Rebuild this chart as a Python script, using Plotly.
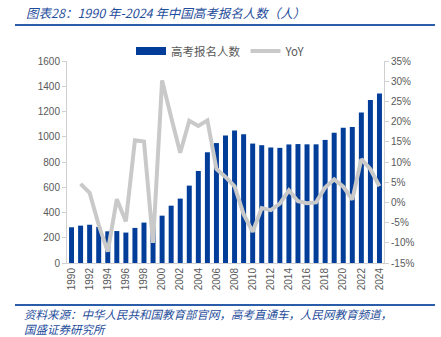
import plotly.graph_objects as go

years = [str(y) for y in range(1990, 2025)]
applicants = [283, 296, 303, 286, 251, 253, 241, 278, 320, 288, 375, 454, 510, 613, 729,
              877, 950, 1010, 1050, 1020, 946, 933, 915, 912, 939, 942, 940, 940, 975,
              1031, 1071, 1078, 1193, 1291, 1342]
yoy = [None, 4.6, 2.4, -5.6, -12.2, 0.8, -4.7, 15.4, 15.1, -10.0, 30.2, 21.1, 12.3, 20.2,
       18.9, 20.3, 8.3, 6.3, 4.0, -2.9, -7.3, -1.4, -1.9, -0.3, 3.0, 0.3, -0.2, 0.0, 3.7,
       5.7, 3.9, 0.7, 10.7, 8.2, 4.0]
left_ticks = [0, 200, 400, 600, 800, 1000, 1200, 1400, 1600]
right_ticks = [-15, -10, -5, 0, 5, 10, 15, 20, 25, 30, 35]
x_ticks = [str(y) for y in range(1990, 2025, 2)]

BLUE = "#023e99"
GREY_LINE = "#c9c9c9"
TXT = "#595959"
AX = "#d0d0d0"
FONT = "Noto Sans CJK SC, Liberation Sans, sans-serif"

fig = go.Figure()
fig.add_trace(go.Bar(x=years, y=applicants, name="高考报名人数", marker=dict(color=BLUE, line=dict(width=0)),
                     width=0.55, yaxis="y", showlegend=False))
# legend-only entry drawn as a wide rectangle like the reference
fig.add_trace(go.Scatter(x=[None], y=[None], name="高考报名人数", mode="lines",
                         line=dict(color=BLUE, width=8), yaxis="y", showlegend=True))
fig.add_trace(go.Scatter(x=years, y=yoy, name="YoY", mode="lines",
                         line=dict(color=GREY_LINE, width=4), yaxis="y2", connectgaps=False))

L, T, W, H = 67, 61, 317, 202
def px(x): return (x - L) / W
def py(y): return (T + H - y) / H

fig.update_layout(
    width=441, height=337,
    margin=dict(l=L, r=441 - L - W, t=T, b=337 - T - H),
    paper_bgcolor="white", plot_bgcolor="white",
    font=dict(family=FONT, size=10, color=TXT),
    showlegend=True,
    legend=dict(orientation="h", x=px(221), xanchor="center", y=py(51), yanchor="middle",
                font=dict(size=11.5, color=TXT), itemwidth=30, traceorder="normal", bgcolor="rgba(0,0,0,0)"),
    xaxis=dict(type="category", tickmode="array", tickvals=x_ticks, ticktext=x_ticks, tickangle=-90,
               showline=True, linecolor=AX, linewidth=1, ticks="", showgrid=False,
               tickfont=dict(size=10, color=TXT, family="Liberation Sans, sans-serif"), range=[-0.5, 34.5]),
    yaxis=dict(range=[0, 1600], tickvals=left_ticks, showline=True, linecolor=AX, linewidth=1,
               ticks="outside", ticklen=4, tickcolor=AX, showgrid=False, zeroline=False,
               tickfont=dict(size=10, color=TXT, family="Liberation Sans, sans-serif")),
    yaxis2=dict(range=[-15, 35], tickvals=right_ticks, ticktext=[f"{v}%" for v in right_ticks],
                overlaying="y", side="right", showline=True, linecolor=AX, linewidth=1,
                ticks="outside", ticklen=4, tickcolor=AX, showgrid=False, zeroline=False,
                tickfont=dict(size=10, color=TXT, family="Liberation Sans, sans-serif")),
    bargap=0.45,
)

title_color = "#1f4e9c"
fig.add_shape(type="line", xref="paper", yref="paper", x0=px(15), x1=px(435), y0=py(25), y1=py(25),
              line=dict(color="#2a5caa", width=2))
fig.add_shape(type="line", xref="paper", yref="paper", x0=px(15), x1=px(435), y0=py(305), y1=py(305),
              line=dict(color="#2a5caa", width=2))
fig.add_annotation(xref="paper", yref="paper", x=px(24), y=py(12), xanchor="left", yanchor="middle",
                   text="图表28：1990 年-2024 年中国高考报名人数（人）", showarrow=False,
                   font=dict(size=12.5, color=title_color, family=FONT, style="italic"))
fig.add_annotation(xref="paper", yref="paper", x=px(22), y=py(321.5), xanchor="left", yanchor="middle",
                   align="left",
                   text="资料来源：中华人民共和国教育部官网，高考直通车，人民网教育频道，<br>国盛证券研究所",
                   showarrow=False,
                   font=dict(size=11.5, color=title_color, family=FONT, style="italic"))

fig.write_html("out.html")
